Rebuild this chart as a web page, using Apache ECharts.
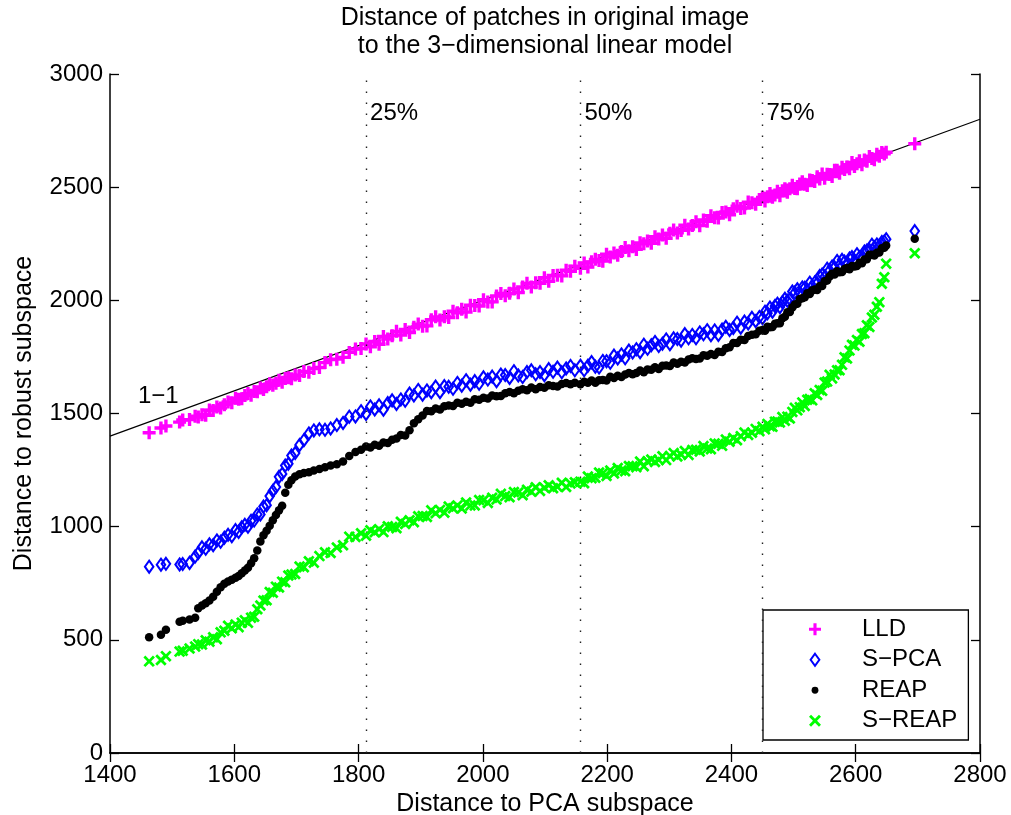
<!DOCTYPE html>
<html>
<head>
<meta charset="utf-8">
<script src="https://cdn.jsdelivr.net/npm/echarts@6/dist/echarts.min.js"></script>
<style>
  html, body { margin: 0; padding: 0; background: #ffffff; }
  #chart { width: 1011px; height: 815px; }
</style>
</head>
<body>
<div id="chart"></div>
<script>
// Sorted distances of the patches to the PCA subspace (shared horizontal coordinate)
const pcaDistance = [
  1463, 1482, 1490, 1512, 1517, 1528, 1537, 1542, 1548, 1554, 1560, 1566, 1572, 1578, 1584,
  1590, 1596, 1602, 1607, 1612, 1617, 1622, 1627, 1632, 1637, 1642, 1647, 1652, 1657, 1662,
  1667, 1672, 1677, 1682, 1687, 1692, 1698, 1705, 1712, 1720, 1728, 1737, 1746, 1755, 1765,
  1775, 1785, 1795, 1804,
  1812, 1819, 1826, 1833, 1840, 1847, 1854, 1861, 1868, 1875, 1882, 1889, 1896, 1903, 1910,
  1917, 1924, 1931, 1938, 1945, 1952, 1959, 1966, 1973, 1980, 1987, 1994, 2001, 2008, 2015,
  2022, 2029, 2036, 2043, 2050, 2057, 2064, 2071, 2078, 2085, 2092, 2099, 2106, 2113, 2120,
  2127, 2134, 2141, 2148,
  2157, 2163, 2169, 2175, 2181, 2187, 2193, 2199, 2205, 2211, 2217, 2223, 2229, 2235, 2241,
  2247, 2253, 2259, 2265, 2271, 2277, 2283, 2289, 2295, 2301, 2307, 2313, 2319, 2325, 2331,
  2337, 2343, 2349, 2355, 2361, 2367, 2373, 2379, 2385, 2391, 2397, 2403, 2409, 2415, 2421,
  2427, 2433, 2439, 2445,
  2450, 2454, 2458, 2462, 2466, 2470, 2474, 2478, 2482, 2486, 2490, 2494, 2498, 2502, 2506,
  2510, 2514, 2518, 2522, 2526, 2530, 2534, 2538, 2542, 2546, 2550, 2554, 2558, 2562, 2566,
  2570, 2574, 2578, 2582, 2586, 2590, 2594, 2598, 2602, 2606, 2610, 2614, 2618, 2622, 2626,
  2630, 2634, 2638, 2642, 2646, 2649,
  2695
];

// Distances to the robust subspace for the same patches, one list per method
const lldDistance = [
  1415, 1436, 1445, 1462, 1471, 1473, 1488, 1484, 1495, 1492, 1515, 1513, 1529, 1524, 1539,
  1551, 1547, 1567, 1563, 1565, 1580, 1588, 1581, 1597, 1596, 1613, 1606, 1618, 1631, 1625,
  1634, 1647, 1638, 1655, 1658, 1654, 1670, 1668, 1686, 1682, 1699, 1703, 1725, 1738, 1740,
  1748, 1770, 1785, 1787,
  1807, 1795, 1818, 1806, 1840, 1829, 1844, 1863, 1847, 1871, 1858, 1881, 1895, 1886, 1887,
  1914, 1927, 1913, 1928, 1924, 1952, 1945, 1961, 1948, 1978, 1977, 1975, 2003, 1993, 1993,
  2019, 2030, 2020, 2031, 2050, 2034, 2059, 2075, 2059, 2078, 2075, 2100, 2084, 2110, 2111,
  2108, 2133, 2128, 2151,
  2142, 2165, 2147, 2170, 2181, 2176, 2173, 2204, 2191, 2209, 2199, 2216, 2233, 2219, 2237,
  2225, 2254, 2250, 2262, 2252, 2281, 2271, 2289, 2274, 2296, 2311, 2298, 2309, 2332, 2315,
  2331, 2347, 2330, 2355, 2349, 2374, 2365, 2364, 2388, 2390, 2378, 2405, 2416, 2406, 2408,
  2434, 2431, 2424, 2446,
  2455, 2439, 2458, 2472, 2456, 2465, 2482, 2462, 2484, 2493, 2478, 2493, 2509, 2494, 2493,
  2514, 2524, 2513, 2507, 2532, 2530, 2525, 2546, 2536, 2558, 2539, 2557, 2556, 2547, 2575,
  2575, 2562, 2588, 2578, 2589, 2581, 2609, 2591, 2604, 2617, 2599, 2620, 2614, 2636, 2627,
  2621, 2645, 2637, 2653, 2647, 2654,
  2692
];

const spcaDistance = [
  823, 832, 836, 833, 835, 840, 868, 884, 909, 902, 922, 918, 939, 933, 951,
  964, 958, 985, 977, 997, 1008, 1000, 1026, 1027, 1054, 1054, 1089, 1095, 1135, 1158,
  1175, 1220, 1233, 1270, 1278, 1314, 1325, 1361, 1382, 1412, 1425, 1430, 1428, 1434, 1449,
  1458, 1486, 1487, 1510,
  1498, 1531, 1518, 1536, 1517, 1546, 1558, 1542, 1562, 1556, 1588, 1580, 1604, 1583, 1602,
  1594, 1619, 1594, 1621, 1618, 1609, 1635, 1623, 1647, 1627, 1643, 1631, 1660, 1650, 1663,
  1643, 1672, 1670, 1657, 1687, 1668, 1661, 1683, 1691, 1673, 1683, 1669, 1696, 1684, 1703,
  1682, 1699, 1710, 1691,
  1711, 1691, 1711, 1727, 1707, 1703, 1732, 1731, 1724, 1756, 1743, 1761, 1744, 1778, 1770,
  1784, 1771, 1804, 1786, 1802, 1816, 1798, 1808, 1827, 1806, 1832, 1829, 1822, 1851, 1832,
  1847, 1832, 1858, 1850, 1868, 1846, 1867, 1847, 1871, 1883, 1869, 1878, 1901, 1879, 1906,
  1898, 1923, 1908, 1926,
  1921, 1950, 1943, 1968, 1950, 1975, 1985, 1970, 1992, 2007, 1998, 2004, 2039, 2034, 2049,
  2032, 2057, 2056, 2047, 2078, 2063, 2079, 2076, 2107, 2114, 2104, 2140, 2132, 2149, 2146,
  2174, 2157, 2179, 2171, 2163, 2185, 2191, 2176, 2204, 2190, 2188, 2216, 2220, 2223, 2246,
  2235, 2247, 2242, 2258, 2260, 2270,
  2306
];

const reapDistance = [
  511, 522, 545, 580, 584, 590, 598, 640, 652, 662, 674, 690, 712, 732, 748,
  758, 766, 774, 782, 794, 806, 818, 838, 860, 895, 935, 962, 982, 1004, 1028,
  1052, 1072, 1092, 1150, 1185, 1205, 1222, 1232, 1237, 1240, 1248, 1255, 1262, 1270, 1276,
  1288, 1312, 1330, 1340,
  1354, 1350, 1362, 1358, 1372, 1370, 1384, 1390, 1405, 1403, 1426, 1457, 1475, 1491, 1511,
  1510, 1522, 1518, 1532, 1535, 1533, 1548, 1543, 1552, 1548, 1563, 1561, 1570, 1566, 1580,
  1576, 1577, 1589, 1595, 1589, 1601, 1607, 1603, 1615, 1607, 1617, 1614, 1625, 1622, 1619,
  1630, 1635, 1629, 1636,
  1629, 1640, 1636, 1646, 1636, 1647, 1648, 1646, 1662, 1657, 1667, 1661, 1672, 1679, 1673,
  1679, 1690, 1682, 1694, 1693, 1704, 1697, 1711, 1712, 1710, 1725, 1720, 1729, 1725, 1739,
  1744, 1741, 1743, 1757, 1755, 1763, 1758, 1773, 1772, 1788, 1793, 1812, 1812, 1826, 1825,
  1842, 1848, 1850, 1866,
  1869, 1866, 1883, 1881, 1882, 1897, 1899, 1899, 1921, 1927, 1947, 1948, 1968, 1982, 1985,
  2006, 2009, 2014, 2031, 2028, 2043, 2048, 2046, 2063, 2063, 2084, 2088, 2105, 2117, 2114,
  2128, 2124, 2125, 2138, 2143, 2137, 2152, 2150, 2152, 2166, 2164, 2180, 2182, 2201, 2201,
  2198, 2210, 2211, 2230, 2232, 2242,
  2272
];

const sreapDistance = [
  405, 411, 428, 448, 452, 462, 470, 481, 479, 498, 492, 511, 503, 533, 540,
  562, 551, 568, 556, 576, 586, 575, 598, 602, 635, 652, 674, 675, 711, 708,
  735, 731, 757, 754, 784, 789, 791, 824, 821, 847, 841, 870, 887, 884, 908,
  918, 956, 954, 971,
  960, 984, 975, 989, 976, 1002, 999, 993, 1022, 1012, 1028, 1020, 1046, 1047, 1043,
  1072, 1059, 1074, 1062, 1089, 1081, 1094, 1080, 1107, 1094, 1094, 1118, 1117, 1105, 1128,
  1120, 1145, 1135, 1130, 1153, 1151, 1139, 1163, 1154, 1174, 1158, 1172, 1183, 1170, 1176,
  1194, 1175, 1191, 1196,
  1199, 1192, 1222, 1214, 1216, 1239, 1236, 1224, 1248, 1235, 1259, 1248, 1245, 1268, 1267,
  1263, 1288, 1267, 1289, 1297, 1286, 1295, 1311, 1294, 1312, 1325, 1310, 1319, 1334, 1317,
  1339, 1340, 1332, 1356, 1345, 1342, 1368, 1366, 1357, 1385, 1375, 1392, 1382, 1400, 1416,
  1405, 1415, 1432, 1422,
  1441, 1430, 1454, 1444, 1441, 1464, 1465, 1460, 1484, 1468, 1486, 1478, 1507, 1525, 1514,
  1528, 1549, 1533, 1561, 1564, 1558, 1589, 1582, 1604, 1600, 1637, 1641, 1671, 1655, 1672,
  1691, 1691, 1715, 1748, 1743, 1778, 1804, 1800, 1825, 1817, 1851, 1855, 1890, 1882, 1924,
  1936, 1972, 1992, 2073, 2102, 2162,
  2208
];

// Quartiles of the PCA distances, marked by dotted vertical lines
const quartileValues = [1812, 2157, 2450];
const quartileLabels = ['25%', '50%', '75%'];

// Reference diagonal y = x
const identityLine = [[1400, 1400], [2800, 2800]];
const identityLabel = '1−1';
const identityLabelAt = [1445, 1575];

const seriesNames = ['LLD', 'S−PCA', 'REAP', 'S−REAP'];

// Marker shapes
const PLUS = 'path://M3.7,0H6.3V3.7H10V6.3H6.3V10H3.7V6.3H0V3.7H3.7Z';
const CROSS = 'path://M0,1.7L1.7,0L5,3.3L8.3,0L10,1.7L6.7,5L10,8.3L8.3,10L5,6.7L1.7,10L0,8.3L3.3,5Z';
const DIAMOND = 'path://M4,0L8,5.5L4,11L0,5.5Z';
// small dot drawn inside a wider (empty) bounding box, for the legend
const LEGEND_DOT = 'path://M0,0M12,12M6,2.6A3.4,3.4 0 1 1 6,9.4A3.4,3.4 0 1 1 6,2.6Z';

const FONT = '"Liberation Sans", Arial, Helvetica, sans-serif';

function pairs(ys) {
  return pcaDistance.map((x, i) => [x, ys[i]]);
}

const chart = echarts.init(document.getElementById('chart'), null, { renderer: 'canvas' });

const axisLine = { show: true, lineStyle: { color: '#000', width: 1.5 } };
const axisTick = { show: true, inside: true, length: 9, lineStyle: { color: '#000', width: 1.3 } };
const plainNumber = v => String(v);

chart.setOption({
  animation: false,
  backgroundColor: '#ffffff',
  textStyle: { fontFamily: FONT },
  title: {
    text: 'Distance of patches in original image\nto the 3−dimensional linear model',
    left: 545,
    top: 4,
    textAlign: 'center',
    padding: 0,
    textStyle: { fontFamily: FONT, fontSize: 25, fontWeight: 'normal', color: '#000', lineHeight: 28 }
  },
  grid: { left: 110, right: 31, top: 74, bottom: 62, containLabel: false, outerBoundsMode: 'none' },
  xAxis: [
    {
      type: 'value', min: 1400, max: 2800, interval: 200, position: 'bottom',
      name: 'Distance to PCA subspace', nameLocation: 'middle', nameGap: 37,
      nameTextStyle: { fontFamily: FONT, fontSize: 25, color: '#000' },
      axisLine, axisTick,
      axisLabel: { fontFamily: FONT, fontSize: 24, color: '#000', margin: 10, formatter: plainNumber },
      splitLine: { show: false }
    },
    {
      type: 'value', min: 1400, max: 2800, interval: 200, position: 'top',
      axisLine, axisTick, axisLabel: { show: false }, splitLine: { show: false }
    }
  ],
  yAxis: [
    {
      type: 'value', min: 0, max: 3000, interval: 500, position: 'left',
      name: 'Distance to robust subspace', nameLocation: 'middle', nameGap: 73,
      nameTextStyle: { fontFamily: FONT, fontSize: 25, color: '#000' },
      axisLine, axisTick,
      axisLabel: { fontFamily: FONT, fontSize: 24, color: '#000', margin: 7, formatter: plainNumber },
      splitLine: { show: false }
    },
    {
      type: 'value', min: 0, max: 3000, interval: 500, position: 'right',
      axisLine, axisTick, axisLabel: { show: false }, splitLine: { show: false }
    }
  ],
  legend: {
    orient: 'vertical',
    left: 763,
    top: 610,
    padding: [4, 11, 4, 46],
    itemGap: 0,
    itemWidth: 84,
    itemHeight: 12,
    backgroundColor: '#ffffff',
    borderColor: '#000',
    borderWidth: 1.3,
    borderRadius: 0,
    selectedMode: false,
    textStyle: { fontFamily: FONT, fontSize: 24, color: '#000', lineHeight: 30.5 },
    data: [
      { name: seriesNames[0], icon: PLUS },
      { name: seriesNames[1], icon: DIAMOND },
      { name: seriesNames[2], icon: LEGEND_DOT },
      { name: seriesNames[3], icon: CROSS }
    ]
  },
  series: [
    {
      name: '1-1',
      type: 'line',
      data: identityLine,
      showSymbol: false,
      symbol: 'none',
      silent: true,
      lineStyle: { color: '#000', width: 1.2 },
      markLine: {
        silent: true,
        symbol: 'none',
        label: { show: false },
        lineStyle: { color: '#222', width: 1.4, type: [1.4, 9.6] },
        data: quartileValues.map(v => ({ xAxis: v }))
      },
      z: 1
    },
    {
      name: seriesNames[0],
      type: 'scatter',
      data: pairs(lldDistance),
      symbol: PLUS,
      symbolSize: 13,
      itemStyle: { color: '#ff00ff', opacity: 1 },
      z: 2
    },
    {
      name: seriesNames[1],
      type: 'scatter',
      data: pairs(spcaDistance),
      symbol: DIAMOND,
      symbolSize: [8.5, 12],
      itemStyle: { color: 'rgba(0,0,0,0)', borderColor: '#0000ff', borderWidth: 2.1, opacity: 1 },
      z: 3
    },
    {
      name: seriesNames[2],
      type: 'scatter',
      data: pairs(reapDistance),
      symbol: 'circle',
      symbolSize: 8.5,
      itemStyle: { color: '#000000', opacity: 1 },
      z: 4
    },
    {
      name: seriesNames[3],
      type: 'scatter',
      data: pairs(sreapDistance),
      symbol: CROSS,
      symbolSize: 11.5,
      itemStyle: { color: '#00ff00', opacity: 1 },
      z: 5
    },
    {
      name: 'quartile labels',
      type: 'scatter',
      silent: true,
      symbolSize: 0,
      itemStyle: { opacity: 1 },
      data: quartileValues.map((v, i) => [v, 2825, quartileLabels[i]]),
      label: {
        show: true, position: 'right', distance: 4,
        formatter: p => p.value[2],
        fontFamily: FONT, fontSize: 24, color: '#000'
      },
      z: 6
    },
    {
      name: 'identity label',
      type: 'scatter',
      silent: true,
      symbolSize: 0,
      itemStyle: { opacity: 1 },
      data: [identityLabelAt.concat([identityLabel])],
      label: {
        show: true, position: 'right', distance: 0,
        formatter: p => p.value[2],
        fontFamily: FONT, fontSize: 24, color: '#000'
      },
      z: 6
    }
  ]
});
</script>
</body>
</html>
